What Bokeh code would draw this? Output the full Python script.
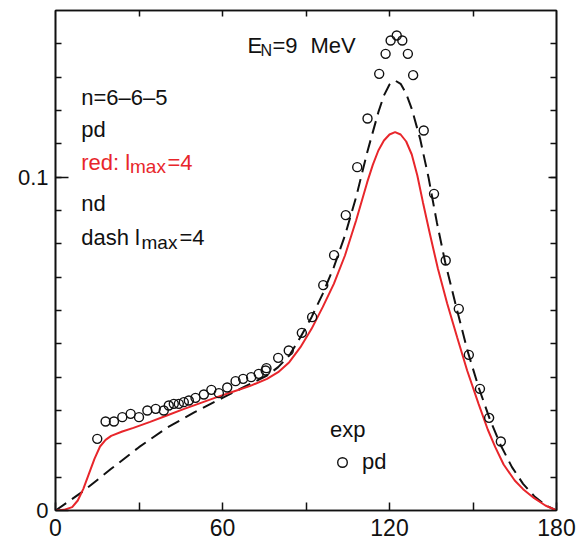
from bokeh.plotting import figure
from bokeh.models import (Range1d, LinearAxis, FixedTicker, Label, Legend, LegendItem)
from bokeh.embed import file_html
from bokeh.resources import INLINE

# ---------------- data ----------------
exp_angle = [15, 18, 21, 24, 27, 30, 33, 36, 38.9, 40.7,
             42.5, 44.3, 46.1, 47.9, 50.3, 53.3, 56, 58.7, 61.7, 64.7,
             67.4, 70.3, 73, 75.5, 75.8, 80, 83.8, 88.5, 92.2, 96.2,
             100.1, 104.3, 108.4, 112.1, 116.3, 118.6, 120.4, 122.6, 124.6, 126.6,
             128.5, 132.3, 136, 140.2, 144.9, 148.5, 152.5, 155.8, 160]
exp_pd = [0.0215, 0.0267, 0.0267, 0.028, 0.029, 0.028, 0.030, 0.0305, 0.030, 0.0315,
          0.032, 0.032, 0.0325, 0.033, 0.0338, 0.0348, 0.0362, 0.0352, 0.0369, 0.0388,
          0.0395, 0.040, 0.041, 0.042, 0.0427, 0.0458, 0.048, 0.0533, 0.058, 0.0676,
          0.0766, 0.0886, 0.103, 0.1176, 0.131, 0.137, 0.141, 0.1425, 0.141, 0.137,
          0.1306, 0.114, 0.095, 0.075, 0.0605, 0.0467, 0.0365, 0.0278, 0.0207]

pd_angle = [0, 3, 6, 8, 10, 12, 14, 16, 18, 20,
            24, 28, 34, 40, 46, 52, 58, 64, 70, 76,
            80, 84, 88, 92, 96, 100, 104, 108, 112, 114,
            116, 118, 120, 122, 124, 126, 128, 130, 132, 134.5,
            137.4, 140.7, 144.3, 147.9, 152, 155.3, 158, 161, 165, 168,
            172, 176, 180]
pd_lmax4 = [0, 0.0002, 0.001, 0.003, 0.0065, 0.011, 0.0155, 0.0192, 0.0212, 0.0224,
            0.0237, 0.0248, 0.0266, 0.0285, 0.0304, 0.0322, 0.034, 0.0357, 0.0374, 0.0395,
            0.0415, 0.0445, 0.049, 0.0545, 0.061, 0.068, 0.0765, 0.087, 0.0985, 0.1037,
            0.1080, 0.1110, 0.1128, 0.1135, 0.1128, 0.1107, 0.1068, 0.1005, 0.0925, 0.083,
            0.0725, 0.0622, 0.052, 0.042, 0.032, 0.0243, 0.019, 0.0138, 0.009, 0.0064,
            0.0037, 0.0015, 0]

nd_angle = [0, 10, 20, 30, 40, 50, 60, 70, 76, 80,
            84, 88, 92, 96, 100, 104, 108, 112, 116, 118,
            120, 122, 124, 126, 128, 131, 134, 137, 140, 144,
            148, 152, 156, 160, 164, 168, 172, 176, 180]
nd_lmax4 = [0, 0.0058, 0.0125, 0.019, 0.0248, 0.0295, 0.0338, 0.038, 0.0405, 0.043,
            0.0465, 0.052, 0.058, 0.065, 0.073, 0.0825, 0.094, 0.1075, 0.1195, 0.1245,
            0.1278, 0.129, 0.1280, 0.1250, 0.1205, 0.1115, 0.100, 0.0865, 0.0745, 0.061,
            0.048, 0.037, 0.0275, 0.0195, 0.013, 0.008, 0.0043, 0.0016, 0]

x_ticks = [0, 30, 60, 90, 120, 150, 180]
x_tick_labels = {0: "0", 30: "", 60: "60", 90: "", 120: "120", 150: "", 180: "180"}
y_major = [0, 0.1]
y_tick_labels = {0: "0", 0.1: "0.1"}
y_minor = [round(0.01 * i, 2) for i in range(1, 15)]

# ---------------- styling ----------------
FONT = "Liberation Sans"
RED = "#e8262b"
X0, X1, Y0, Y1 = 0, 180, 0, 0.15
L, R, T, B = 55, 556, 10, 510
W, H = 583, 546


def dx(px):
    return X0 + (px - L) * (X1 - X0) / (R - L)


def dy(py):
    return Y0 + (B - py) * (Y1 - Y0) / (B - T)


p = figure(width=W, height=H, x_range=Range1d(X0, X1), y_range=Range1d(Y0, Y1),
           output_backend="svg", toolbar_location=None,
           x_axis_type=None, y_axis_type=None,
           min_border_left=L, min_border_right=W - R,
           min_border_top=T, min_border_bottom=H - B)
p.outline_line_color = "#111111"
p.outline_line_width = 1.6
p.background_fill_color = "white"
p.border_fill_color = "white"


def style_axis(ax, tick_in, minor_in, show_labels):
    ax.axis_line_color = "#111111"
    ax.axis_line_width = 1.6
    ax.major_tick_line_color = "#111111"
    ax.major_tick_line_width = 1.5
    ax.minor_tick_line_color = "#111111"
    ax.minor_tick_line_width = 1.5
    ax.major_tick_in = tick_in
    ax.major_tick_out = 0
    ax.minor_tick_in = minor_in
    ax.minor_tick_out = 0
    if not show_labels:
        ax.major_label_text_font_size = "0px"
        ax.major_label_text_alpha = 0


xb = LinearAxis(ticker=FixedTicker(ticks=x_ticks, minor_ticks=[]),
                major_label_overrides=x_tick_labels)
style_axis(xb, 8, 0, True)
xb.major_label_text_font = FONT
xb.major_label_text_font_size = "23px"
xb.major_label_text_color = "#111111"
xb.major_label_standoff = 8
p.add_layout(xb, "below")

xt = LinearAxis(ticker=FixedTicker(ticks=x_ticks[1:-1], minor_ticks=[]))
style_axis(xt, 6, 0, False)
p.add_layout(xt, "above")

yl = LinearAxis(ticker=FixedTicker(ticks=y_major, minor_ticks=y_minor),
                major_label_overrides=y_tick_labels)
style_axis(yl, 13, 6, True)
yl.major_label_text_font = FONT
yl.major_label_text_font_size = "22px"
yl.major_label_text_color = "#111111"
yl.major_label_standoff = 7
p.add_layout(yl, "left")

yr = LinearAxis(ticker=FixedTicker(ticks=[0.1], minor_ticks=y_minor))
style_axis(yr, 8, 6, False)
p.add_layout(yr, "right")

# ---------------- curves ----------------
p.line(nd_angle, nd_lmax4, line_color="#111111", line_width=2, line_dash="13 7")
p.line(pd_angle, pd_lmax4, line_color=RED, line_width=2)
r_exp = p.scatter(exp_angle, exp_pd, marker="circle", size=9, fill_color=None,
                  line_color="#111111", line_width=1.4)

# ---------------- legend ----------------
legend = Legend(items=[LegendItem(label="pd", renderers=[r_exp])], title="exp",
                location=(330 - L, B - 475), orientation="vertical",
                glyph_width=24, glyph_height=24, label_standoff=8,
                padding=0, margin=0, spacing=0, title_standoff=6,
                border_line_color=None, background_fill_alpha=0,
                label_text_font=FONT, label_text_font_size="22px",
                label_text_color="#111111",
                title_text_font=FONT, title_text_font_size="22px",
                title_text_font_style="normal", title_text_color="#111111")
p.add_layout(legend)


# ---------------- annotations ----------------
def lab(px, py, text, size="22px", color="#111111"):
    p.add_layout(Label(x=dx(px), y=dy(py), text=text, text_font=FONT,
                       text_font_size=size, text_color=color,
                       text_align="left", text_baseline="alphabetic"))


lab(247, 44.5, "E")
lab(260, 49.5, "N", size="16px")
lab(272, 44.5, "=9")
lab(310, 44.5, "MeV")

lab(80.7, 96.5, "n=6\u20136\u20135")
lab(80.7, 129, "pd")
lab(80.7, 161.5, "red: l", color=RED)
lab(129.5, 166, "max", size="19px", color=RED)
lab(167, 161.5, "=4", color=RED)
lab(80.7, 203, "nd")
lab(80.7, 237, "dash l")
lab(141, 241.5, "max", size="19px")
lab(179, 237, "=4")

open("out.html", "w").write(file_html(p, INLINE))
